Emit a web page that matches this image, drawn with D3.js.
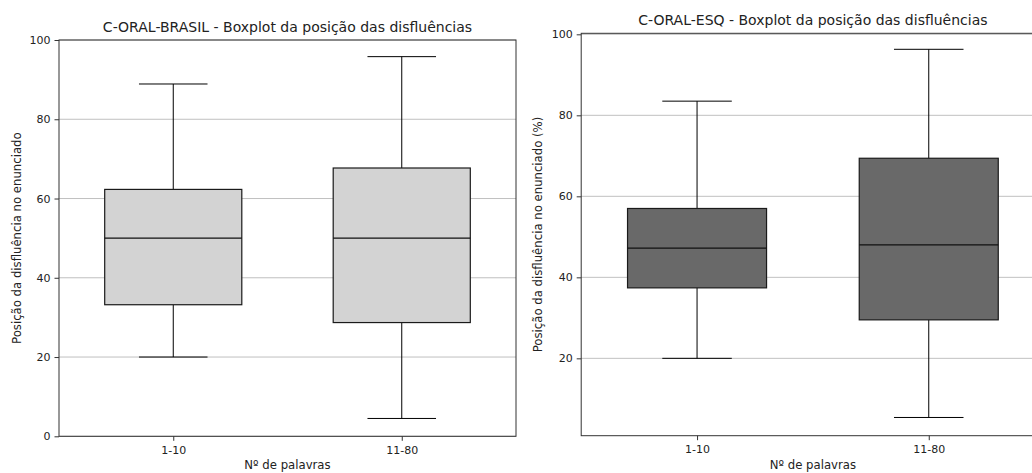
<!DOCTYPE html>
<html>
<head>
<meta charset="utf-8">
<title>Boxplot das disfluências</title>
<style>
  body { margin: 0; background: #fff; }
  svg { display: block; font-family: "DejaVu Sans", sans-serif; }
</style>
</head>
<body>
<script src="https://cdn.jsdelivr.net/npm/d3@7"></script>
<script>
// dados
var categorias = ['1-10', '11-80'];

var brasilMin = [20, 4.5];
var brasilQ1 = [33.2, 28.7];
var brasilMed = [50, 50];
var brasilQ3 = [62.3, 67.7];
var brasilMax = [88.9, 95.8];

var esqMin = [20, 5.4];
var esqQ1 = [37.4, 29.5];
var esqMed = [47.2, 48.0];
var esqQ3 = [57.0, 69.4];
var esqMax = [83.5, 96.3];

var brasilTicks = [0, 20, 40, 60, 80, 100];
var esqTicks = [20, 40, 60, 80, 100];

var svg = d3.select('body').append('svg').attr('width', 1032).attr('height', 473);

function painel(cfg) {
  var dados = categorias.map(function(c, i) {
    return { cat: c, pos: i + 1, lo: cfg.lo[i], q1: cfg.q1[i], med: cfg.med[i], q3: cfg.q3[i], hi: cfg.hi[i] };
  });

  var x = d3.scaleLinear().domain([0.5, 2.5]).range([cfg.left, cfg.right]);
  var y = d3.scaleLinear().domain(cfg.yDomain).range([cfg.bottom, cfg.top]);
  var g = svg.append('g');

  // grade horizontal
  g.selectAll('.grid').data(cfg.ticks).enter().append('line')
    .attr('x1', cfg.left).attr('x2', cfg.right)
    .attr('y1', function(d) { return y(d); }).attr('y2', function(d) { return y(d); })
    .attr('stroke', '#b0b0b0').attr('stroke-width', 0.8);

  var caixa = g.selectAll('.box').data(dados).enter().append('g');

  // bigodes
  caixa.append('line')
    .attr('x1', function(d) { return x(d.pos); }).attr('x2', function(d) { return x(d.pos); })
    .attr('y1', function(d) { return y(d.lo); }).attr('y2', function(d) { return y(d.q1); })
    .attr('stroke', '#000').attr('stroke-width', 1);
  caixa.append('line')
    .attr('x1', function(d) { return x(d.pos); }).attr('x2', function(d) { return x(d.pos); })
    .attr('y1', function(d) { return y(d.q3); }).attr('y2', function(d) { return y(d.hi); })
    .attr('stroke', '#000').attr('stroke-width', 1);
  ['lo', 'hi'].forEach(function(k) {
    caixa.append('line')
      .attr('x1', function(d) { return x(d.pos - 0.15); }).attr('x2', function(d) { return x(d.pos + 0.15); })
      .attr('y1', function(d) { return y(d[k]); }).attr('y2', function(d) { return y(d[k]); })
      .attr('stroke', '#000').attr('stroke-width', 1);
  });

  // caixa
  caixa.append('rect')
    .attr('x', function(d) { return x(d.pos - 0.3); })
    .attr('width', function(d) { return x(d.pos + 0.3) - x(d.pos - 0.3); })
    .attr('y', function(d) { return y(d.q3); })
    .attr('height', function(d) { return y(d.q1) - y(d.q3); })
    .attr('fill', cfg.cor).attr('stroke', '#1a1a1a').attr('stroke-width', 1.2);

  // mediana
  caixa.append('line')
    .attr('x1', function(d) { return x(d.pos - 0.3); }).attr('x2', function(d) { return x(d.pos + 0.3); })
    .attr('y1', function(d) { return y(d.med); }).attr('y2', function(d) { return y(d.med); })
    .attr('stroke', '#111').attr('stroke-width', 1.2);

  // moldura
  g.append('rect')
    .attr('x', cfg.left).attr('y', cfg.top)
    .attr('width', cfg.right - cfg.left).attr('height', cfg.bottom - cfg.top)
    .attr('fill', 'none').attr('stroke', '#333').attr('stroke-width', 1);

  // eixos
  var eixoY = g.append('g').attr('transform', 'translate(' + cfg.left + ',0)')
    .call(d3.axisLeft(y).tickValues(cfg.ticks).tickSize(4.5).tickPadding(4).tickFormat(d3.format('d')));
  var eixoX = g.append('g').attr('transform', 'translate(0,' + cfg.bottom + ')')
    .call(d3.axisBottom(x).tickValues([1, 2]).tickSize(4.5).tickPadding(5)
      .tickFormat(function(d) { return categorias[d - 1]; }));
  [eixoY, eixoX].forEach(function(e) {
    e.select('.domain').remove();
    e.selectAll('line').attr('stroke', '#333');
    e.selectAll('text').attr('font-size', 11).attr('fill', '#222')
      .attr('font-family', '"DejaVu Sans", sans-serif');
  });

  // textos
  g.append('text')
    .attr('x', (cfg.left + cfg.right) / 2).attr('y', cfg.top - 8.5)
    .attr('text-anchor', 'middle').attr('font-size', 14).attr('fill', '#222')
    .text(cfg.titulo);
  g.append('text')
    .attr('x', (cfg.left + cfg.right) / 2).attr('y', 469)
    .attr('text-anchor', 'middle').attr('font-size', 11.7).attr('fill', '#222')
    .text('Nº de palavras');
  g.append('text')
    .attr('transform', 'translate(' + cfg.ylabX + ',' + (cfg.top + cfg.bottom) / 2 + ') rotate(-90)')
    .attr('text-anchor', 'middle').attr('font-size', 11.7).attr('fill', '#222')
    .text(cfg.ylab);
}

painel({
  left: 59, right: 516, top: 40, bottom: 436.3,
  yDomain: [0, 100], ticks: brasilTicks, cor: '#d3d3d3',
  lo: brasilMin, q1: brasilQ1, med: brasilMed, q3: brasilQ3, hi: brasilMax,
  titulo: 'C-ORAL-BRASIL - Boxplot da posição das disfluências',
  ylab: 'Posição da disfluência no enunciado', ylabX: 21
});

painel({
  left: 581.2, right: 1044.6, top: 33.3, bottom: 435.7,
  yDomain: [0.9, 100.25], ticks: esqTicks, cor: '#696969',
  lo: esqMin, q1: esqQ1, med: esqMed, q3: esqQ3, hi: esqMax,
  titulo: 'C-ORAL-ESQ - Boxplot da posição das disfluências',
  ylab: 'Posição da disfluência no enunciado (%)', ylabX: 542
});
</script>
</body>
</html>
